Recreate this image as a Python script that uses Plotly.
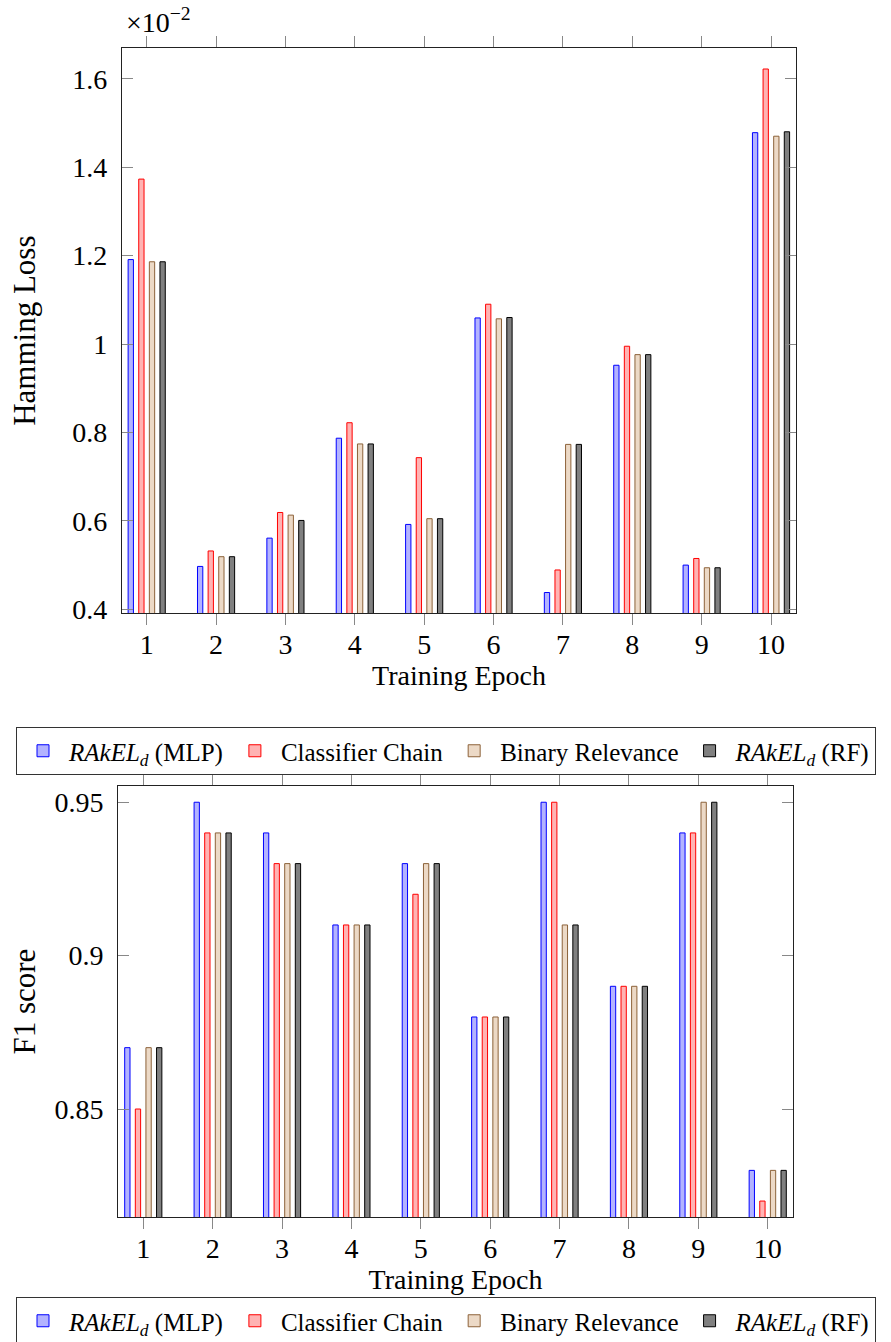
import plotly.graph_objects as go

epochs = [1, 2, 3, 4, 5, 6, 7, 8, 9, 10]
series_names = ["<i>RAkEL</i><sub><i>d</i></sub> (MLP)", "Classifier Chain",
                "Binary Relevance", "<i>RAkEL</i><sub><i>d</i></sub> (RF)"]

# Hamming loss (x10^-2)
hl_mlp = [1.191, 0.497, 0.561, 0.787, 0.592, 1.059, 0.438, 0.952, 0.500, 1.478]
hl_cc = [1.373, 0.532, 0.619, 0.822, 0.743, 1.090, 0.489, 0.995, 0.515, 1.622]
hl_br = [1.186, 0.519, 0.613, 0.774, 0.605, 1.057, 0.773, 0.976, 0.494, 1.470]
hl_rf = [1.186, 0.519, 0.601, 0.774, 0.605, 1.060, 0.773, 0.976, 0.494, 1.480]

# F1 score
f1_mlp = [0.87, 0.95, 0.94, 0.91, 0.93, 0.88, 0.95, 0.89, 0.94, 0.83]
f1_cc = [0.85, 0.94, 0.93, 0.91, 0.92, 0.88, 0.95, 0.89, 0.94, 0.82]
f1_br = [0.87, 0.94, 0.93, 0.91, 0.93, 0.88, 0.91, 0.89, 0.95, 0.83]
f1_rf = [0.87, 0.94, 0.93, 0.91, 0.93, 0.88, 0.91, 0.89, 0.95, 0.83]

hl_ticks = [0.4, 0.6, 0.8, 1.0, 1.2, 1.4, 1.6]
hl_ticklabels = ["0.4", "0.6", "0.8", "1", "1.2", "1.4", "1.6"]
f1_ticks = [0.85, 0.90, 0.95]
f1_ticklabels = ["0.85", "0.9", "0.95"]

fills = ["#b3b3ff", "#ffb3b3", "#ecd9c6", "#808080"]
edges = ["#0000ff", "#ff0000", "#8c6239", "#000000"]

FONT = "Liberation Serif"
FS = 28
W, H = 891, 1342

fig = go.Figure()

for i, (name, vals) in enumerate(zip(series_names, [hl_mlp, hl_cc, hl_br, hl_rf])):
    fig.add_trace(go.Bar(x=epochs, y=vals, name=name, xaxis="x", yaxis="y",
                         marker=dict(color=fills[i], line=dict(color=edges[i], width=1)),
                         legend="legend", offsetgroup=str(i)))
for i, (name, vals) in enumerate(zip(series_names, [f1_mlp, f1_cc, f1_br, f1_rf])):
    fig.add_trace(go.Bar(x=epochs, y=vals, name=name, xaxis="x2", yaxis="y2",
                         marker=dict(color=fills[i], line=dict(color=edges[i], width=1)),
                         legend="legend2", offsetgroup=str(i)))

axis_common = dict(showline=True, linecolor="#222", linewidth=1.2, showgrid=False,
                   zeroline=False, tickcolor="#888", ticklen=11, tickwidth=1,
                   tickfont=dict(family=FONT, size=FS, color="black"))

fig.update_layout(
    width=W, height=H,
    margin=dict(l=0, r=0, t=0, b=0, autoexpand=False),
    paper_bgcolor="white", plot_bgcolor="white",
    barmode="group", bargap=0.388, bargroupgap=0.5,
    font=dict(family=FONT, size=FS, color="black"),
    xaxis=dict(domain=[122 / W, 796 / W], range=[0.644, 10.36], anchor="y",
               tickvals=epochs, ticks="outside", mirror="allticks",
               ticklabelstandoff=-5,
               title=dict(text="Training Epoch", standoff=0, font=dict(size=FS)),
               **axis_common),
    yaxis=dict(domain=[1 - 613.3 / H, 1 - 48 / H], range=[0.391, 1.6695], anchor="x",
               tickvals=hl_ticks, ticktext=hl_ticklabels, ticks="inside", mirror="allticks",
               ticklabelstandoff=8,
               title=dict(text="Hamming Loss", standoff=27, font=dict(size=31)),
               **axis_common),
    xaxis2=dict(domain=[118.3 / W, 792.7 / W], range=[0.64, 10.36], anchor="y2",
                tickvals=epochs, ticks="outside", mirror="allticks",
                ticklabelstandoff=-5,
                title=dict(text="Training Epoch", standoff=0, font=dict(size=FS)),
                **axis_common),
    yaxis2=dict(domain=[1 - 1217 / H, 1 - 786.3 / H], range=[0.8148, 0.9552], anchor="x2",
                tickvals=f1_ticks, ticktext=f1_ticklabels, ticks="inside", mirror="allticks",
                ticklabelstandoff=8,
                title=dict(text="F1 score", standoff=9, font=dict(size=31)),
                **axis_common),
    legend=dict(orientation="h", x=16 / W, y=1 - 727 / H, xanchor="left", yanchor="top",
                bordercolor="#333", borderwidth=1, bgcolor="white",
                font=dict(family=FONT, size=25), itemwidth=42, tracegroupgap=0),
    legend2=dict(orientation="h", x=16 / W, y=1 - 1297 / H, xanchor="left", yanchor="top",
                 bordercolor="#333", borderwidth=1, bgcolor="white",
                 font=dict(family=FONT, size=25), itemwidth=42, tracegroupgap=0),
    annotations=[dict(text="×10<sup>−2</sup>", x=124 / W, y=1 - 40 / H, xref="paper",
                      yref="paper", xanchor="left", yanchor="bottom", showarrow=False,
                      font=dict(family=FONT, size=FS))],
)

fig.write_html("out.html")
